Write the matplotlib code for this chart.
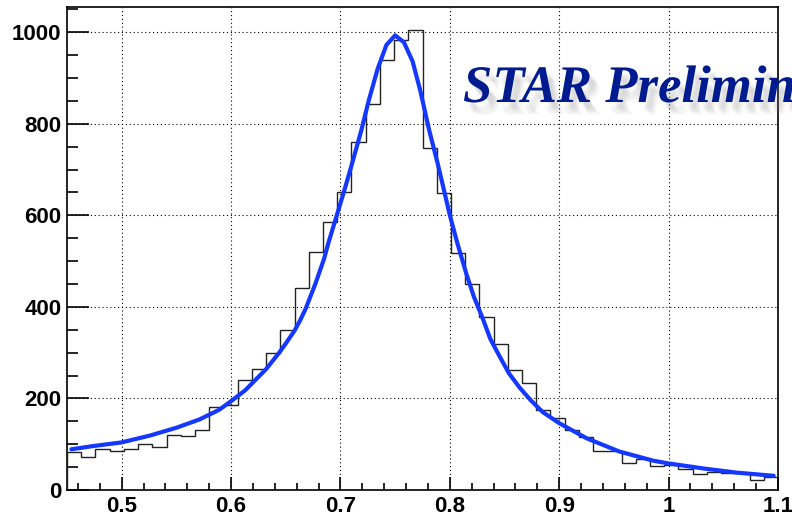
import numpy as np
import matplotlib
matplotlib.use('Agg')
import matplotlib.pyplot as plt
import matplotlib.patheffects as pe
from matplotlib.ticker import MultipleLocator

# histogram: 50 bins of 0.013 between 0.45 and 1.1
bin_lo = 0.45
bin_hi = 1.1
counts = [84, 73, 90, 86, 89, 101, 95, 120, 117, 131,
          181, 186, 241, 265, 300, 350, 441, 520, 585, 651,
          760, 844, 939, 984, 1004, 748, 648, 518, 451, 377,
          318, 262, 234, 175, 158, 130, 116, 85, 86, 58,
          67, 52, 54, 45, 36, 40, 37, 37, 22, 28]

# fit curve, points
fit_x = [0.454, 0.474, 0.500, 0.526, 0.550, 0.571, 0.589, 0.600, 0.613, 0.632,
         0.644, 0.650, 0.658, 0.663, 0.668, 0.677, 0.685, 0.689, 0.696, 0.703,
         0.710, 0.719, 0.726, 0.734, 0.742, 0.750, 0.758, 0.766, 0.773, 0.781,
         0.789, 0.796, 0.800, 0.807, 0.815, 0.822, 0.830, 0.837, 0.845, 0.854,
         0.864, 0.874, 0.885, 0.900, 0.925, 0.955, 0.986, 1.000, 1.032, 1.062,
         1.096]
fit_y = [89, 96, 104, 119, 136, 154, 175, 194, 218, 264,
         300, 320, 348, 370, 395, 450, 505, 540, 595, 650,
         708, 785, 852, 920, 972, 993, 978, 936, 872, 787,
         712, 641, 600, 538, 473, 422, 375, 330, 294, 255,
         223, 196, 170, 146, 113, 84, 64, 58, 47, 38,
         31]

edges = np.linspace(bin_lo, bin_hi, len(counts) + 1)

fig = plt.figure(figsize=(7.92, 5.17), dpi=100)
ax = fig.add_axes([67/792, 1 - 490/517, (778 - 67)/792, (490 - 7)/517])

ax.stairs(counts, edges, color='#222222', lw=1.0, zorder=3)
ax.plot(fit_x, fit_y, color='#1438ff', lw=3.0, zorder=4, solid_capstyle='round')

ax.set_xlim(bin_lo, bin_hi)
ax.set_ylim(0, 1055)
ax.xaxis.set_major_locator(MultipleLocator(0.1))
ax.xaxis.set_minor_locator(MultipleLocator(0.02))
ax.yaxis.set_major_locator(MultipleLocator(200))
ax.yaxis.set_minor_locator(MultipleLocator(50))
ax.grid(True, which='major', color='black', linestyle=(0, (1, 2.5)), lw=0.8)

ax.tick_params(axis='y', which='major', direction='in', length=16, width=1.2, pad=4)
ax.tick_params(axis='y', which='minor', direction='in', length=8, width=1.2)
ax.tick_params(axis='x', which='major', direction='in', length=9.5, width=1.2, pad=4)
ax.tick_params(axis='x', which='minor', direction='in', length=5, width=1.2)
ax.xaxis.set_major_formatter(matplotlib.ticker.FuncFormatter(lambda v, p: ('%g' % round(v, 2))))
for lab in ax.get_xticklabels() + ax.get_yticklabels():
    lab.set_fontfamily('Liberation Sans')
    lab.set_fontweight('bold')
    lab.set_fontsize(16)
for s in ax.spines.values():
    s.set_linewidth(1.2)

shadow = [pe.SimplePatchShadow(offset=(dx, dy), shadow_rgbFace='#888888', alpha=0.06)
          for dx, dy in [(3, -4), (4, -6), (5, -7), (6, -8), (5, -5), (7, -9)]]
fig.text(463/792, 1 - 102/517, 'STAR Preliminary', fontsize=38,
         family='Liberation Serif', weight='bold', style='italic',
         color='#001a8f', va='baseline', ha='left',
         path_effects=shadow + [pe.Normal()], zorder=10)

fig.savefig('out.png', dpi=100)
